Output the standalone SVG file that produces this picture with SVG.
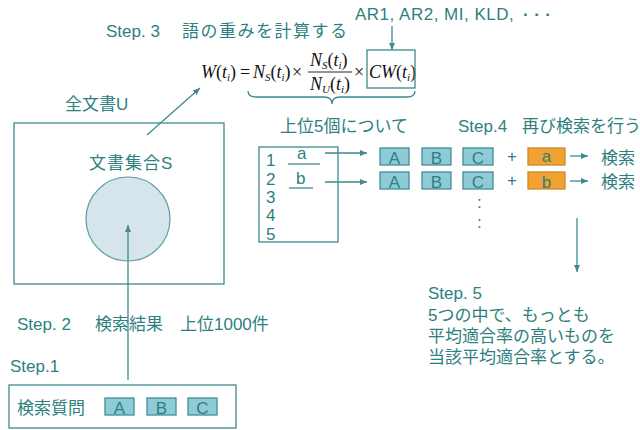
<svg xmlns="http://www.w3.org/2000/svg" width="640" height="430" viewBox="0 0 640 430">
<style>
.t{font-family:"Liberation Sans","Noto Sans CJK JP",sans-serif;font-size:17px;fill:#2e7f80}
.m{font-family:"Liberation Serif",serif;font-style:italic;font-size:18px;fill:#111}
.mn{font-family:"Liberation Serif",serif;font-style:normal;font-size:18px;fill:#111}
.s{font-size:11px}
.ln{stroke:#3f8a8d;stroke-width:1.3;fill:none}
.bx{fill:#8fcbd6;stroke:#3f8f96;stroke-width:1.3}
.ob{fill:#f2a231;stroke:#c98a2a;stroke-width:1.3}
.bt{font-family:"Liberation Sans",sans-serif;font-size:17px;fill:#2e7f80;text-anchor:middle}
</style>
<defs>
<marker id="ah" markerWidth="8" markerHeight="8" refX="7" refY="4" orient="auto" markerUnits="userSpaceOnUse">
<path d="M0,1 L7,4 L0,7 Z" fill="#3f8a8d"/>
</marker>
</defs>
<rect width="640" height="430" fill="#ffffff"/>

<g id="step3">
<text class="t" x="106" y="37">Step. 3</text>
<text class="t" x="182" y="37" letter-spacing="1.5">語の重みを計算する</text>
</g>
<g id="measures">
<text class="t" x="355" y="20" letter-spacing="0.5">AR1, AR2, MI, KLD,</text>
<text class="t" x="523" y="20" font-weight="bold" letter-spacing="5.5">···</text>
</g>
<g id="formula">
<text class="m" x="201" y="78">W<tspan class="mn">(</tspan>t<tspan class="s" dy="3">i</tspan><tspan class="mn" dy="-3">)</tspan></text>
<text class="mn" x="240" y="78">=</text>
<text class="m" x="253" y="78">N<tspan class="s" dy="3">S</tspan><tspan class="mn" dy="-3">(</tspan>t<tspan class="s" dy="3">i</tspan><tspan class="mn" dy="-3">)</tspan></text>
<text class="mn" x="292" y="78">×</text>
<text class="m" x="310" y="66">N<tspan class="s" dy="3">S</tspan><tspan class="mn" dy="-3">(</tspan>t<tspan class="s" dy="3">i</tspan><tspan class="mn" dy="-3">)</tspan></text>
<line x1="308" y1="72" x2="352" y2="72" stroke="#111" stroke-width="0.9"/>
<text class="m" x="310" y="90">N<tspan class="s" dy="3">U</tspan><tspan class="mn" dy="-3">(</tspan>t<tspan class="s" dy="3">i</tspan><tspan class="mn" dy="-3">)</tspan></text>
<text class="mn" x="354" y="78">×</text>
<text class="m" x="369" y="78" font-size="17">CW<tspan class="mn" font-size="17">(</tspan>t<tspan class="s" dy="3">i</tspan><tspan class="mn" dy="-3" font-size="17">)</tspan></text>
<rect x="367" y="50" width="48" height="38" class="ln"/>
<path class="ln" d="M248,91 Q248,97 256,97 L324,97 Q332,97 332,104 Q332,97 340,97 L407,97 Q415,97 415,91"/>
</g>

<g id="universe">
<text class="t" x="65" y="110">全文書U</text>
<rect x="14" y="123" width="210" height="161" class="ln"/>
<text class="t" x="89" y="169" letter-spacing="1">文書集合S</text>
<circle cx="128" cy="219" r="42" fill="#d6e5ec" stroke="#5b9aa0" stroke-width="1.2"/>
</g>

<g id="step2">
<text class="t" x="17" y="330">Step. 2</text>
<text class="t" x="95" y="330">検索結果</text>
<text class="t" x="180" y="330">上位1000件</text>
</g>
<g id="step1">
<text class="t" x="10" y="372">Step.1</text>
</g>
<g id="query">
<rect x="9" y="385" width="227" height="43" class="ln"/>
<text class="t" x="17" y="414">検索質問</text>
<rect x="105" y="398" width="29" height="17" class="bx"/><text class="bt" x="119.5" y="413.5">A</text>
<rect x="147" y="398" width="29" height="17" class="bx"/><text class="bt" x="161.5" y="413.5">B</text>
<rect x="188" y="398" width="29" height="17" class="bx"/><text class="bt" x="202.5" y="413.5">C</text>
</g>

<g id="top5label">
<text class="t" x="280" y="132">上位5個について</text>
</g>
<g id="step4">
<text class="t" x="458" y="132">Step.4</text>
<text class="t" x="522" y="132">再び検索を行う</text>
</g>
<g id="ranklist">
<rect x="259" y="147" width="79" height="95" class="ln"/>
<text class="t" x="266" y="166">1</text>
<text class="t" x="266" y="185">2</text>
<text class="t" x="266" y="203">3</text>
<text class="t" x="266" y="221">4</text>
<text class="t" x="266" y="240">5</text>
<text class="t" x="297" y="159">a</text>
<line x1="288" y1="164" x2="320" y2="164" class="ln"/>
<text class="t" x="296" y="184">b</text>
<line x1="289" y1="188" x2="313" y2="188" class="ln"/>
</g>

<g id="row1">
<rect x="380" y="148" width="29" height="17" class="bx"/><text class="bt" x="394.5" y="163.5">A</text>
<rect x="422" y="148" width="29" height="17" class="bx"/><text class="bt" x="436.5" y="163.5">B</text>
<rect x="463" y="148" width="30" height="17" class="bx"/><text class="bt" x="478" y="163.5">C</text>
<text class="t" x="507" y="162">+</text>
<rect x="528" y="148" width="37" height="17" class="ob"/><text class="bt" x="546.5" y="162">a</text>
<text class="t" x="601" y="164">検索</text>
</g>
<g id="row2">
<rect x="380" y="172" width="29" height="17" class="bx"/><text class="bt" x="394.5" y="187.5">A</text>
<rect x="422" y="172" width="29" height="17" class="bx"/><text class="bt" x="436.5" y="187.5">B</text>
<rect x="463" y="172" width="30" height="17" class="bx"/><text class="bt" x="478" y="187.5">C</text>
<text class="t" x="507" y="186">+</text>
<rect x="528" y="172" width="37" height="17" class="ob"/><text class="bt" x="546.5" y="187.5">b</text>
<text class="t" x="601" y="188">検索</text>
</g>
<g id="dots">
<text class="t" x="477" y="208">:</text>
<text class="t" x="477" y="228">:</text>
</g>

<g id="step5">
<text class="t" x="428" y="299">Step. 5</text>
<text class="t" x="428" y="321">5つの中で、もっとも</text>
<text class="t" x="428" y="342">平均適合率の高いものを</text>
<text class="t" x="428" y="363">当該平均適合率とする。</text>
</g>

<g id="connectors">
<line class="ln" x1="392" y1="26" x2="392" y2="50" marker-end="url(#ah)"/>
<line class="ln" x1="147" y1="135" x2="200" y2="88" marker-end="url(#ah)"/>
<line class="ln" x1="128" y1="380" x2="128" y2="225" marker-end="url(#ah)"/>
<line class="ln" x1="325" y1="153" x2="367" y2="153" marker-end="url(#ah)"/>
<line class="ln" x1="325" y1="182" x2="367" y2="182" marker-end="url(#ah)"/>
<line class="ln" x1="570" y1="156" x2="588" y2="156" marker-end="url(#ah)"/>
<line class="ln" x1="570" y1="181" x2="588" y2="181" marker-end="url(#ah)"/>
<line class="ln" x1="577" y1="218" x2="577" y2="272" marker-end="url(#ah)"/>
</g>
</svg>
